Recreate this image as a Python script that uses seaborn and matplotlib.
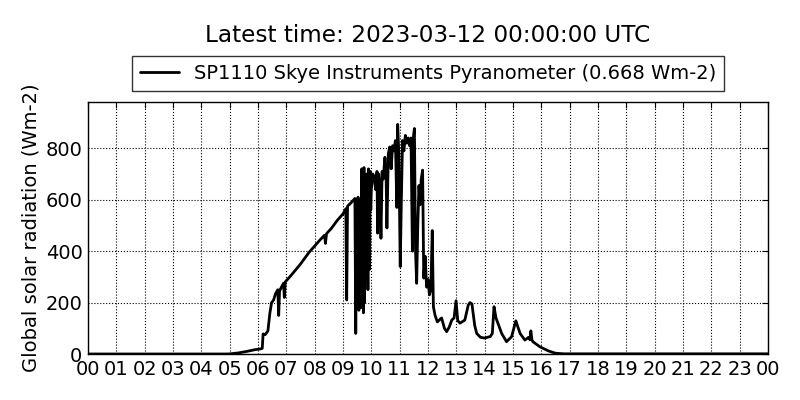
import numpy as np
import pandas as pd
import seaborn as sns
import matplotlib
matplotlib.use("Agg")
import matplotlib.pyplot as plt

# hours since midnight and global solar radiation (Wm-2)
hours = [0.0, 4.9, 5.0, 5.3, 5.6, 5.9, 6.1, 6.15, 6.18, 6.25, 6.3, 6.35, 6.42,
         6.48, 6.55, 6.62, 6.7, 6.73, 6.76, 6.85, 6.9, 6.93, 6.96, 7.2, 7.5,
         7.8, 8.0, 8.2, 8.35, 8.38, 8.42, 8.6, 8.8, 9.0, 9.1, 9.13, 9.16, 9.3,
         9.42, 9.45, 9.48, 9.5, 9.53, 9.56, 9.58, 9.6, 9.62, 9.64, 9.66, 9.68,
         9.7, 9.72, 9.74, 9.76, 9.78, 9.8, 9.82, 9.84, 9.86, 9.88, 9.9, 9.92,
         9.94, 9.96, 9.98, 10.0, 10.05, 10.1, 10.15,
         10.2, 10.22, 10.26, 10.3, 10.34, 10.38, 10.42, 10.48, 10.52, 10.55,
         10.6, 10.65, 10.7, 10.75, 10.8, 10.85, 10.9, 10.93, 10.97, 11.02,
         11.06, 11.1, 11.15, 11.2, 11.25, 11.3, 11.35, 11.4, 11.45, 11.49,
         11.52, 11.56, 11.6, 11.64, 11.68, 11.72, 11.76, 11.81, 11.85, 11.9,
         11.95, 12.0, 12.05, 12.1, 12.15, 12.19, 12.25, 12.33, 12.48, 12.58,
         12.66, 12.75, 12.84, 12.92, 12.99, 13.05, 13.13, 13.3, 13.42, 13.48,
         13.55, 13.65, 13.72, 13.85, 14.0, 14.2, 14.27, 14.33, 14.4, 14.5,
         14.6, 14.77, 14.95, 15.1, 15.25, 15.42, 15.55, 15.6, 15.63, 15.67,
         15.7, 15.95, 16.25, 16.5, 16.8, 24.0]
radiation = [0, 0, 0.5, 4, 10, 17, 20, 22, 78, 75, 82, 90, 160,
             200, 210, 235, 250, 150, 245, 265, 275, 220, 280, 310, 350,
             395, 420, 445, 462, 430, 468, 490, 520, 545, 565, 210, 575, 590,
             605, 80, 560, 300, 610, 170, 580, 200, 600, 180, 720, 190,
             700, 160, 725, 200, 690, 580, 300, 700, 560, 250, 720, 600,
             330, 710, 560, 640, 700, 690, 640,
             710, 470, 700, 650, 450, 710, 680, 765, 700, 490,
             780, 805, 720, 810, 790, 830, 570, 893, 780, 340,
             600, 830, 790, 850, 820, 840, 810, 840, 400, 850,
             877, 400, 275, 500, 655, 580, 680, 715, 295, 380,
             260, 290, 230, 250, 480, 184, 150, 125, 140, 100,
             87, 105, 132, 140, 207, 130, 120, 132, 190, 200,
             195, 110, 80, 65, 62, 68, 80, 184, 140, 110,
             80, 48, 67, 129, 80, 54, 65, 55, 90, 55,
             48, 28, 12, 3, 0.7, 0.7]

title_text = "Latest time: 2023-03-12 00:00:00 UTC"
series_label = "SP1110 Skye Instruments Pyranometer (0.668 Wm-2)"
ylabel_text = "Global solar radiation (Wm-2)"
hour_ticks = list(range(25))
hour_labels = ["%02d" % (h % 24) for h in hour_ticks]
y_ticks = [0, 200, 400, 600, 800]

df = pd.DataFrame({"hour": hours, "radiation": radiation})

sns.set_style("white")
plt.rcParams["font.family"] = ["DejaVu Sans"]
plt.rcParams["text.color"] = "black"
plt.rcParams["axes.labelcolor"] = "black"
plt.rcParams["axes.edgecolor"] = "black"
plt.rcParams["axes.linewidth"] = 1.0
plt.rcParams["xtick.direction"] = "in"
plt.rcParams["ytick.direction"] = "in"
plt.rcParams["xtick.top"] = True
plt.rcParams["ytick.right"] = True

fig = plt.figure(figsize=(8, 4), dpi=100)
ax = fig.add_axes([0.11, 0.115, 0.85, 0.63])

sns.lineplot(data=df, x="hour", y="radiation", ax=ax, color="black",
             linewidth=2, estimator=None, sort=False, label=series_label)

ax.set_xlim(0, 24)
ax.set_ylim(0, 980)
ax.set_xticks(hour_ticks)
ax.set_xticklabels(hour_labels)
ax.set_yticks(y_ticks)
ax.tick_params(axis="both", labelsize=14, length=4, width=0.8, pad=4,
               colors="black")
ax.grid(True, color="black", linestyle=":", linewidth=0.8)
ax.set_xlabel("")
ax.set_ylabel(ylabel_text, fontsize=14)

leg = ax.legend(loc="lower center", bbox_to_anchor=(0.5, 1.045),
                borderaxespad=0, fontsize=14, frameon=True, fancybox=False,
                handlelength=2, borderpad=0.4)
leg.get_frame().set_edgecolor("black")
leg.get_frame().set_linewidth(1.0)

fig.text(0.535, 0.9125, title_text, ha="center", va="center", fontsize=16.7)

fig.savefig("out.png", dpi=100)
